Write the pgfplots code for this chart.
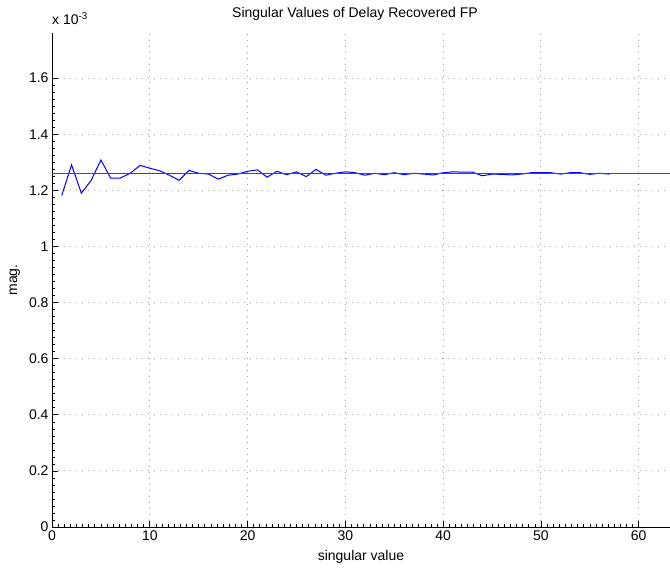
\documentclass[border=0pt]{standalone}
\usepackage{fontspec}
\setmainfont{Liberation Sans}
\usepackage{pgfplots}
\pgfplotsset{compat=1.18}
\begin{document}
\begin{tikzpicture}
\begin{axis}[
  scale only axis,
  width=618pt, height=494pt,
  xmin=0, xmax=63.2, ymin=0, ymax=1.761,
  axis x line*=bottom, axis y line*=left,
  tick align=inside,
  xtick={0,10,...,60},
  ytick={0,0.2,...,1.6},
  minor x tick num=15,
  minor y tick num=7,
  major tick length=6pt, minor tick length=3pt,
  grid=major,
  major grid style={dash pattern=on 1pt off 5pt, gray!75, line width=0.9pt},
  axis line style={line width=0.8pt},
  every tick/.style={black, line width=0.6pt},
  /pgf/number format/assume math mode=true,
  /pgf/number format/.cd, fixed, precision=1,
  /pgfplots/.cd,
  tick label style={font=\fontsize{14}{16}\selectfont},
  label style={font=\fontsize{14}{16}\selectfont},
  xlabel={singular value},
  ylabel={mag.},
  xlabel style={yshift=-3pt},
  ylabel style={yshift=2pt},
  clip=true,
]
\addplot[blue, line width=1pt] coordinates {
(1,1.182) (2,1.291) (3,1.190) (4,1.235) (5,1.308) (6,1.244) (7,1.244) (8,1.261)
(9,1.289) (10,1.279) (11,1.270) (12,1.254) (13,1.236) (14,1.271) (15,1.261)
(16,1.258) (17,1.240) (18,1.254) (19,1.258) (20,1.268) (21,1.273) (22,1.247)
(23,1.268) (24,1.256) (25,1.266) (26,1.249) (27,1.275) (28,1.254) (29,1.261)
(30,1.266) (31,1.263) (32,1.254) (33,1.261) (34,1.256) (35,1.263) (36,1.256)
(37,1.261) (38,1.258) (39,1.255) (40,1.263) (41,1.266) (42,1.265) (43,1.265)
(44,1.252) (45,1.258) (46,1.257) (47,1.255) (48,1.258) (49,1.263) (50,1.263)
(51,1.263) (52,1.258) (53,1.263) (54,1.263) (55,1.257) (56,1.261) (57,1.258)
};
\addplot[red, line width=1pt] coordinates {(0,1.2605) (63.2,1.2605)};
\end{axis}
\node[anchor=south west, font=\fontsize{14}{16}\selectfont, inner sep=0pt] at ([yshift=8pt]current axis.north west) {x 10\textsuperscript{-3}};
\node[anchor=base, font=\fontsize{14}{16}\selectfont, inner sep=0pt] at ([xshift=-6pt,yshift=15pt]current axis.north) {Singular Values of Delay Recovered FP};
\pgfresetboundingbox
\path ([shift={(-52pt,-40pt)}]current axis.south west) rectangle ([shift={(0pt,33pt)}]current axis.north east);
\end{tikzpicture}
\end{document}
